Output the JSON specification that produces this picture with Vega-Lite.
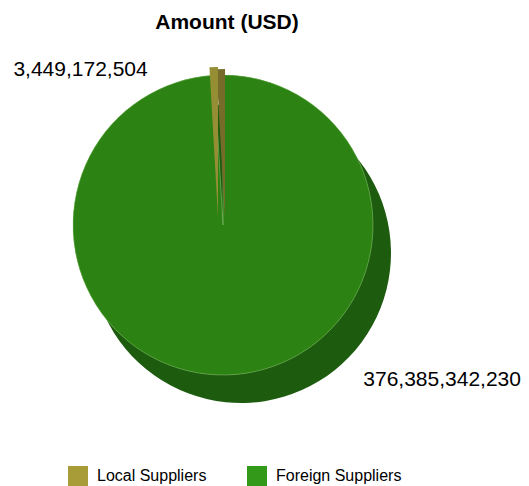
{
  "$schema": "https://vega.github.io/schema/vega-lite/v6.json",
  "width": 446,
  "height": 370,
  "autosize": {"type": "none"},
  "padding": {"left": 0, "top": 40, "right": 83, "bottom": 76},
  "background": "white",
  "view": {"stroke": null},
  "title": {"text": "Amount (USD)", "font": "Liberation Sans", "fontSize": 21, "fontWeight": "bold", "color": "#000000", "anchor": "middle", "offset": 7, "dx": 4},
  "data": {"values": [
    {"category": "Local Suppliers", "amount": 3449172504},
    {"category": "Foreign Suppliers", "amount": 376385342230}
  ]},
  "encoding": {
    "theta": {"field": "amount", "type": "quantitative", "stack": true},
    "order": {"field": "category", "type": "ordinal", "sort": "ascending"}
  },
  "layer": [
    {
      "mark": {"type": "arc", "radius": 150, "xOffset": 18, "yOffset": 28, "fill": "#1d5c0e"},
      "encoding": {"fillOpacity": {"condition": {"test": "datum.category === 'Foreign Suppliers'", "value": 1}, "value": 0}}
    },
    {
      "mark": {"type": "arc", "radius": 150},
      "encoding": {
        "color": {"field": "category", "type": "nominal",
          "scale": {"domain": ["Local Suppliers", "Foreign Suppliers"], "range": ["#a89c38", "#339918"]},
          "legend": {"orient": "none", "legendX": 68, "legendY": 426, "direction": "horizontal", "title": null,
            "symbolType": "square", "symbolSize": 400, "symbolStrokeWidth": 0, "symbolOpacity": 1,
            "labelFont": "Liberation Sans", "labelFontSize": 16, "labelColor": "#000000", "labelOffset": 9,
            "columnPadding": 40, "padding": 0}},
        "opacity": {"condition": {"test": "datum.category === 'Foreign Suppliers'", "value": 1}, "value": 0}
      }
    },
    {
      "mark": {"type": "arc", "radius": 150, "fill": "#2d8214", "stroke": "#a6d08c", "strokeWidth": 0.6, "strokeOpacity": 0.7},
      "encoding": {"opacity": {"condition": {"test": "datum.category === 'Foreign Suppliers'", "value": 1}, "value": 0}}
    },
    {
      "mark": {"type": "arc", "radius": 150, "xOffset": 2, "yOffset": -6, "fill": "#766c2a"},
      "encoding": {"fillOpacity": {"condition": {"test": "datum.category === 'Local Suppliers'", "value": 1}, "value": 0}}
    },
    {
      "mark": {"type": "arc", "radius": 150, "xOffset": -5, "yOffset": -8, "fill": "#968e35"},
      "encoding": {"fillOpacity": {"condition": {"test": "datum.category === 'Local Suppliers'", "value": 1}, "value": 0}}
    },
    {
      "mark": {"type": "text", "radius": 150, "font": "Liberation Sans", "fontSize": 21, "color": "#000000", "align": "right", "baseline": "middle", "dx": -71, "dy": -5},
      "encoding": {"text": {"condition": {"test": "datum.category === 'Local Suppliers'", "field": "amount", "type": "quantitative", "format": ",d"}, "value": ""}}
    },
    {
      "mark": {"type": "text", "radius": 150, "font": "Liberation Sans", "fontSize": 21, "color": "#000000", "align": "left", "baseline": "middle", "dx": 136, "dy": 5},
      "encoding": {"text": {"condition": {"test": "datum.category === 'Foreign Suppliers'", "field": "amount", "type": "quantitative", "format": ",d"}, "value": ""}}
    }
  ]
}
